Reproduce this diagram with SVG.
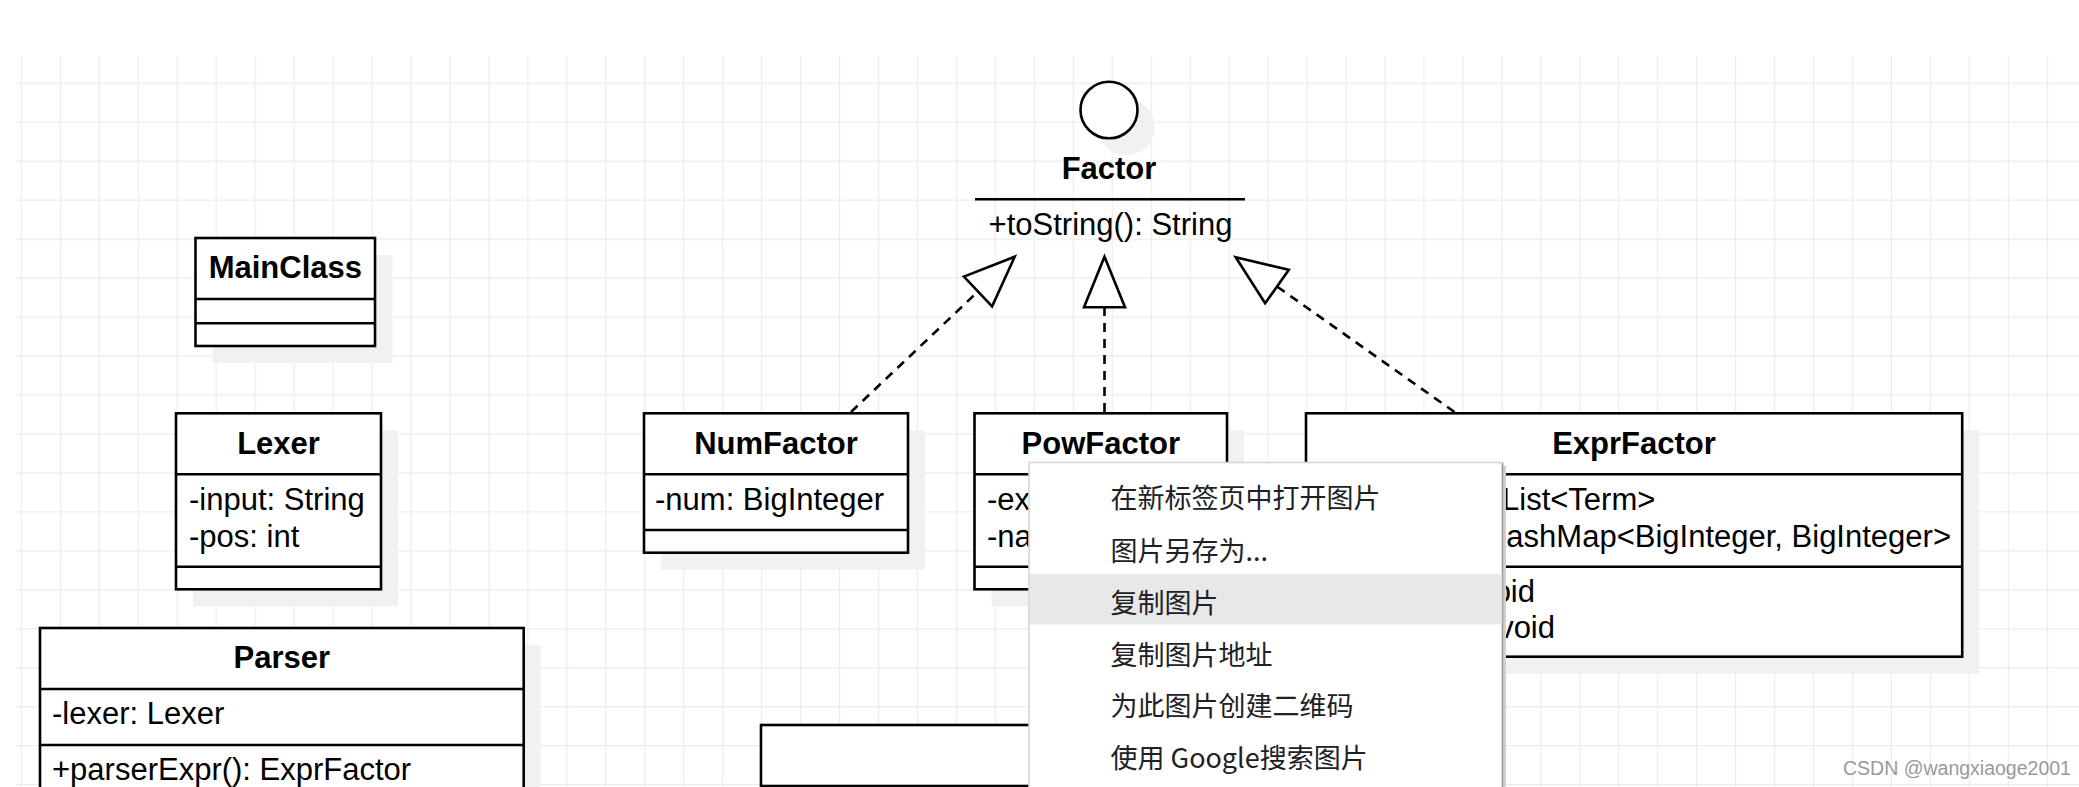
<svg xmlns="http://www.w3.org/2000/svg" width="2079" height="787" viewBox="0 0 2079 787">
  <style>
    .box { fill: #ffffff; stroke: #000000; stroke-width: 2.6; }
    .div { stroke: #000000; stroke-width: 2.6; fill: none; }
    .shadow { fill: #f1f1f1; stroke: none; }
    .title { font-family: "Liberation Sans", Arial, sans-serif; font-size: 31px; font-weight: bold; fill: #000000; text-anchor: middle; }
    .member { font-family: "Liberation Sans", Arial, sans-serif; font-size: 31px; fill: #000000; }
    .conn { fill: none; stroke: #000000; stroke-width: 2.6; stroke-dasharray: 9 7; }
    .menuitem { font-family: "Noto Sans CJK SC", "Liberation Sans", sans-serif; font-size: 27px; fill: #202124; }
    .wm { font-family: "Liberation Sans", Arial, sans-serif; font-size: 19.5px; fill: #9a9a9a; }
  </style>
  <defs>
    <pattern id="grid" patternUnits="userSpaceOnUse" x="20.83" y="82.7" width="38.96" height="38.96">
      <path d="M0.6 0 V38.96 M0 0.6 H38.96" stroke="#ececec" stroke-width="1.2" fill="none"/>
    </pattern>
    <marker id="realize" markerUnits="userSpaceOnUse" markerWidth="60" markerHeight="50" refX="0" refY="20.5" orient="auto" overflow="visible">
      <path d="M0,0 L50.6,20.5 L0,41 Z" fill="#ffffff" stroke="#000000" stroke-width="2.6" stroke-dasharray="none" stroke-linejoin="miter"/>
    </marker>
  </defs>

  <rect x="0" y="0" width="2079" height="787" fill="#ffffff"/>
  <rect x="16" y="56" width="2063" height="731" fill="url(#grid)"/>

  <!-- Factor interface -->
  <g id="Factor">
    <ellipse cx="1126" cy="127" rx="28.5" ry="28.3" class="shadow"/>
    <ellipse cx="1109" cy="110" rx="28.5" ry="28.3" fill="#ffffff" stroke="#000000" stroke-width="2.6"/>
    <text x="1109" y="179" class="title">Factor</text>
    <line x1="975" y1="199.3" x2="1245" y2="199.3" class="div"/>
    <text x="1110.5" y="235" class="member" text-anchor="middle">+toString(): String</text>
  </g>

  <!-- MainClass -->
  <g id="MainClass">
    <rect x="213" y="255" width="179.5" height="108" class="shadow"/>
    <rect x="195.5" y="238" width="179.5" height="108" class="box"/>
    <line x1="195.5" y1="299" x2="375" y2="299" class="div"/>
    <line x1="195.5" y1="323.3" x2="375" y2="323.3" class="div"/>
    <text x="285.3" y="278" class="title">MainClass</text>
  </g>

  <!-- Lexer -->
  <g id="Lexer">
    <rect x="193" y="430.3" width="205" height="176" class="shadow"/>
    <rect x="176" y="413.3" width="205" height="176" class="box"/>
    <line x1="176" y1="474.3" x2="381" y2="474.3" class="div"/>
    <line x1="176" y1="566.7" x2="381" y2="566.7" class="div"/>
    <text x="278.5" y="454" class="title">Lexer</text>
    <text x="189" y="510" class="member">-input: String</text>
    <text x="189" y="546.5" class="member">-pos: int</text>
  </g>

  <!-- Parser -->
  <g id="Parser">
    <rect x="57" y="645" width="483.7" height="160" class="shadow"/>
    <rect x="40" y="628" width="483.7" height="180" class="box"/>
    <line x1="40" y1="689" x2="523.7" y2="689" class="div"/>
    <line x1="40" y1="745" x2="523.7" y2="745" class="div"/>
    <text x="281.8" y="668" class="title">Parser</text>
    <text x="52" y="724" class="member">-lexer: Lexer</text>
    <text x="52" y="780" class="member">+parserExpr(): ExprFactor</text>
  </g>

  <!-- NumFactor -->
  <g id="NumFactor">
    <rect x="661" y="430.3" width="264" height="139.4" class="shadow"/>
    <rect x="644" y="413.3" width="264" height="139.4" class="box"/>
    <line x1="644" y1="474.3" x2="908" y2="474.3" class="div"/>
    <line x1="644" y1="530" x2="908" y2="530" class="div"/>
    <text x="776" y="454" class="title">NumFactor</text>
    <text x="655" y="510" class="member">-num: BigInteger</text>
  </g>

  <!-- PowFactor -->
  <g id="PowFactor">
    <rect x="991.5" y="430.3" width="252.5" height="176" class="shadow"/>
    <rect x="974.5" y="413.3" width="252.5" height="176" class="box"/>
    <line x1="974.5" y1="474.3" x2="1227" y2="474.3" class="div"/>
    <line x1="974.5" y1="566.7" x2="1227" y2="566.7" class="div"/>
    <text x="1100.8" y="454" class="title">PowFactor</text>
    <text x="987" y="510" class="member">-ex</text>
    <text x="987" y="546.5" class="member">-na</text>
  </g>

  <!-- ExprFactor -->
  <g id="ExprFactor">
    <rect x="1323" y="430.3" width="656.2" height="243.4" class="shadow"/>
    <rect x="1306" y="413.3" width="656.2" height="243.4" class="box"/>
    <line x1="1306" y1="474.3" x2="1962.2" y2="474.3" class="div"/>
    <line x1="1306" y1="566.7" x2="1962.2" y2="566.7" class="div"/>
    <text x="1634" y="454" class="title">ExprFactor</text>
    <text x="1502" y="510" class="member">List&lt;Term&gt;</text>
    <text x="1951" y="546.5" class="member" text-anchor="end">ashMap&lt;BigInteger, BigInteger&gt;</text>
    <text x="1535" y="601.5" class="member" text-anchor="end">oid</text>
    <text x="1555" y="638" class="member" text-anchor="end">void</text>
  </g>

  <!-- Bottom partial box -->
  <g id="BottomBox">
    <rect x="761" y="725" width="400" height="61" class="box"/>
  </g>

  <!-- Connectors -->
  <g id="connectors">
    <path d="M851,412 L978,291.5" class="conn" marker-end="url(#realize)"/>
    <path d="M1104.5,412 L1104.5,307.3" class="conn" marker-end="url(#realize)"/>
    <path d="M1454.5,412 L1277,286.5" class="conn" marker-end="url(#realize)"/>
  </g>

  <!-- Context menu overlay -->
  <g id="ContextMenu">
    <rect x="1503" y="466" width="3" height="330" fill="#d0d0d0"/>
    <rect x="1029" y="462.5" width="473.5" height="340" fill="#ffffff" stroke="#d6d6d9" stroke-width="1.6"/>
    <line x1="1502.5" y1="463" x2="1502.5" y2="787" stroke="#9e9e9e" stroke-width="1.6"/>
    <rect x="1030" y="574" width="472" height="50.5" fill="#e8e8e8"/>
    <text x="1110.5" y="508" class="menuitem">在新标签页中打开图片</text>
    <text x="1110.5" y="561" class="menuitem">图片另存为...</text>
    <text x="1110.5" y="613" class="menuitem">复制图片</text>
    <text x="1110.5" y="665" class="menuitem">复制图片地址</text>
    <text x="1110.5" y="716" class="menuitem">为此图片创建二维码</text>
    <text x="1110.5" y="768" class="menuitem">使用 Google搜索图片</text>
  </g>

  <text x="1843" y="775" class="wm">CSDN @wangxiaoge2001</text>
</svg>
